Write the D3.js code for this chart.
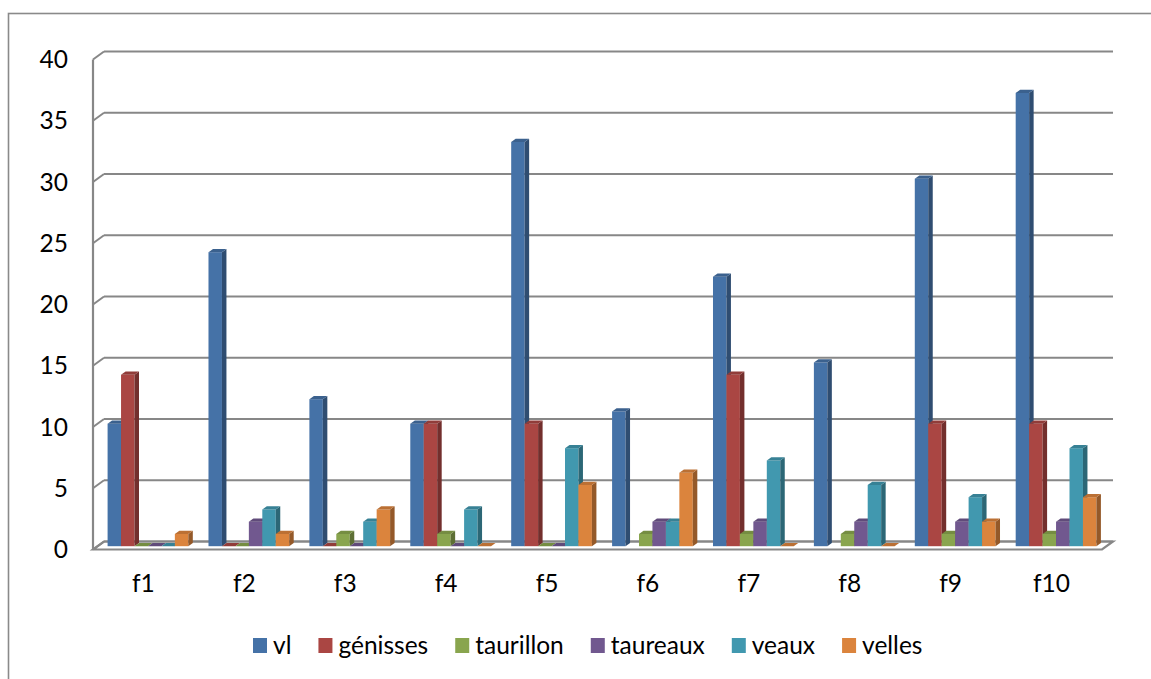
<!DOCTYPE html>
<html>
<head>
<meta charset="utf-8">
<script src="https://cdn.jsdelivr.net/npm/d3@7"></script>
<style>
  body { margin: 0; background: #fff; }
  text { font-family: Lato, "Open Sans", sans-serif; fill: #000; }
</style>
</head>
<body>
<svg id="chart" width="1151" height="679"></svg>
<script>
// data
var categories = ['f1', 'f2', 'f3', 'f4', 'f5', 'f6', 'f7', 'f8', 'f9', 'f10'];
var seriesNames = ['vl', 'génisses', 'taurillon', 'taureaux', 'veaux', 'velles'];
var vl        = [10, 24, 12, 10, 33, 11, 22, 15, 30, 37];
var genisses  = [14, 0, 0, 10, 10, null, 14, null, 10, 10];
var taurillon = [0, 0, 1, 1, 0, 1, 1, 1, 1, 1];
var taureaux  = [0, 2, 0, 0, 0, 2, 2, 2, 2, 2];
var veaux     = [0, 3, 2, 3, 8, 2, 7, 5, 4, 8];
var velles    = [1, 1, 3, 0, 5, 6, 0, 0, 2, 4];
var yTicks = [0, 5, 10, 15, 20, 25, 30, 35, 40];
var colors = ['#4572a7', '#aa4643', '#89a54e', '#71588f', '#4198af', '#db843d'];

var seriesValues = [vl, genisses, taurillon, taureaux, veaux, velles];

var svg = d3.select('#chart');
var fontSize = 24.5;

// depth of the back wall and of the bar plane
var wallDx = 11, wallDy = -8;
var barDx = 4.5, barDy = -3.3;
var barDepthX = 4.5, barDepthY = -3.2;

var y = d3.scaleLinear().domain([0, 40]).range([549.5, 59.5]);
var xFront = d3.scaleBand().domain(categories).range([93, 1102]);
var xBar = d3.scaleBand().domain(categories)
	.range([93 + barDx, 1102 + barDx])
	.paddingInner(0.2).paddingOuter(0.1);
var xSeries = d3.scaleBand().domain(seriesNames).range([0, xBar.bandwidth()]);

// chart frame
svg.append('rect')
	.attr('x', 8.5).attr('y', 13.5)
	.attr('width', 1200).attr('height', 700)
	.attr('fill', 'none').attr('stroke', '#8a8a8a').attr('stroke-width', 1.6);

var grid = '#878787';
var x0 = xFront.range()[0], x1 = xFront.range()[1];

// floor slab
var floorTop = y(0);
svg.append('path')
	.attr('d', 'M' + x0 + ',' + floorTop + 'L' + x1 + ',' + floorTop +
		'L' + (x1 + wallDx) + ',' + (floorTop + wallDy) +
		'L' + (x0 + wallDx) + ',' + (floorTop + wallDy) + 'Z')
	.attr('fill', '#fff').attr('stroke', grid).attr('stroke-width', 2.2);

// back wall gridlines + left wall diagonals
var gl = svg.append('g');
yTicks.forEach(function(v) {
	gl.append('line')
		.attr('x1', x0 + wallDx).attr('x2', x1 + wallDx)
		.attr('y1', y(v) + wallDy).attr('y2', y(v) + wallDy)
		.attr('stroke', grid).attr('stroke-width', 2);
	gl.append('line')
		.attr('x1', x0).attr('x2', x0 + wallDx)
		.attr('y1', y(v)).attr('y2', y(v) + wallDy)
		.attr('stroke', grid).attr('stroke-width', 2);
});
gl.append('line')
	.attr('x1', x0).attr('x2', x0)
	.attr('y1', y(40)).attr('y2', y(0))
	.attr('stroke', grid).attr('stroke-width', 2.2);

// y tick labels
svg.append('g').selectAll('text').data(yTicks).enter().append('text')
	.attr('x', 68)
	.attr('y', function(d) { return y(d) + 2.5; })
	.attr('text-anchor', 'end')
	.attr('dominant-baseline', 'middle')
	.style('font-size', fontSize + 'px')
	.text(function(d) { return d; });

// bars
var bars = svg.append('g');
categories.forEach(function(cat, i) {
	seriesNames.forEach(function(name, j) {
		var v = seriesValues[j][i];
		if (v === null || v === undefined) return;
		var bx = xBar(cat) + xSeries(name),
			bw = xSeries.bandwidth(),
			base = y(0) + barDy,
			top = y(v) + barDy,
			c = d3.color(colors[j]);
		var g = bars.append('g');
		if (v > 0) {
			g.append('rect')
				.attr('x', bx).attr('y', top)
				.attr('width', bw).attr('height', base - top)
				.attr('fill', c.formatHex());
			g.append('path')
				.attr('d', 'M' + (bx + bw) + ',' + top +
					'L' + (bx + bw + barDepthX) + ',' + (top + barDepthY) +
					'L' + (bx + bw + barDepthX) + ',' + (base + barDepthY) +
					'L' + (bx + bw) + ',' + base + 'Z')
				.attr('fill', c.darker(1.1).formatHex());
		}
		g.append('path')
			.attr('d', 'M' + bx + ',' + top +
				'L' + (bx + bw) + ',' + top +
				'L' + (bx + bw + barDepthX) + ',' + (top + barDepthY) +
				'L' + (bx + barDepthX) + ',' + (top + barDepthY) + 'Z')
			.attr('fill', c.darker(0.45).formatHex());
	});
});

// x labels
svg.append('g').selectAll('text').data(categories).enter().append('text')
	.attr('x', function(d) { return xFront(d) + xFront.bandwidth() / 2; })
	.attr('y', 592)
	.attr('text-anchor', 'middle')
	.style('font-size', fontSize + 'px')
	.text(function(d) { return d; });

// legend
var legend = svg.append('g');
var lx = 253;
seriesNames.forEach(function(name, j) {
	legend.append('rect')
		.attr('x', lx).attr('y', 638)
		.attr('width', 14).attr('height', 15)
		.attr('fill', colors[j]);
	var t = legend.append('text')
		.attr('x', lx + 20).attr('y', 654)
		.style('font-size', fontSize + 'px')
		.text(name);
	lx += 20 + t.node().getComputedTextLength() + 27;
});
</script>
</body>
</html>
